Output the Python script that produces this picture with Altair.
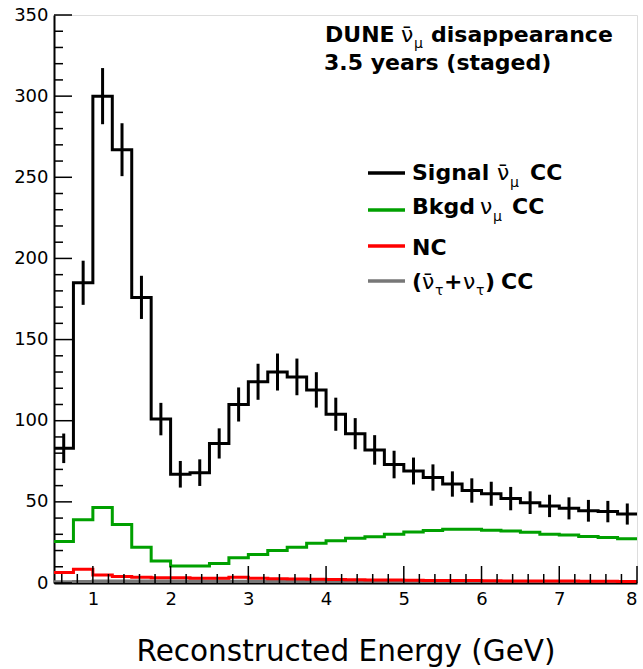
import altair as alt
import pandas as pd

# ---------------- data ----------------
bin_lo = [0.5, 0.75, 1.0, 1.25, 1.5, 1.75, 2.0, 2.25, 2.5, 2.75,
          3.0, 3.25, 3.5, 3.75, 4.0, 4.25, 4.5, 4.75, 5.0, 5.25,
          5.5, 5.75, 6.0, 6.25, 6.5, 6.75, 7.0, 7.25, 7.5, 7.75]
bin_w = 0.25

signal = [83, 185, 300, 267, 176, 101, 67, 68, 86, 110,
          124, 130, 127, 119, 104, 92, 82, 73, 69, 65,
          61, 57, 55, 52, 49.5, 47.5, 46, 44.5, 44, 42.5]
signal_err = [9.1, 13.6, 17.3, 16.3, 13.3, 10.0, 8.2, 8.2, 9.3, 10.5,
              11.1, 11.4, 11.3, 10.9, 10.2, 9.6, 9.1, 8.5, 8.3, 8.1,
              7.8, 7.5, 7.4, 7.2, 7.0, 6.9, 6.8, 6.7, 6.6, 6.5]
bkgd_numu = [25.5, 39, 46.5, 36, 22, 13.5, 10.5, 10.5, 12, 15.5,
             17.5, 20, 22, 24.5, 26, 27.5, 28.5, 30, 31.5, 32.3,
             33.1, 33.1, 32.5, 32, 31.3, 30, 29.6, 28.6, 28, 27.2]
nc = [6.5, 8.5, 5, 4, 3.5, 3.3, 3.2, 3, 3, 3.5,
      3, 2.6, 2.5, 2.3, 2.1, 2, 1.9, 1.8, 1.7, 1.6,
      1.5, 1.5, 1.4, 1.3, 1.3, 1.2, 1.2, 1.1, 1.1, 1.0]
tau = [0.8, 1.0, 1.2, 1.2, 1.2, 1.2, 1.2, 1.2, 1.2, 1.1,
       1.0, 1.0, 0.9, 0.9, 0.8, 0.8, 0.7, 0.7, 0.6, 0.6,
       0.6, 0.5, 0.5, 0.5, 0.5, 0.4, 0.4, 0.4, 0.4, 0.4]

series_names = ["tau", "nc", "bkgd", "signal"]
series_colors = ["#777777", "#ff0000", "#00a000", "#000000"]

x_major = [1, 2, 3, 4, 5, 6, 7, 8]
y_major = [0, 50, 100, 150, 200, 250, 300, 350]

# ---------------- tables ----------------
rows = []
for name, vals in zip(series_names, [tau, nc, bkgd_numu, signal]):
    for i, (lo, v) in enumerate(zip(bin_lo, vals)):
        rows.append(dict(series=name, x=lo, y=v, o=2 * i))
        rows.append(dict(series=name, x=lo + bin_w, y=v, o=2 * i + 1))
steps = pd.DataFrame(rows)

err = pd.DataFrame({"c": [lo + bin_w / 2 for lo in bin_lo],
                    "lo": [v - e for v, e in zip(signal, signal_err)],
                    "hi": [v + e for v, e in zip(signal, signal_err)]})

x_minor = [round(0.6 + 0.2 * k, 1) for k in range(37)]
x_minor = [v for v in x_minor if abs(v - round(v)) > 1e-6 and v < 8]
y_minor = [v for v in range(10, 350, 10) if v % 50 != 0]

W, H = 583, 568
FONT = "DejaVu Sans"

xs = alt.Scale(domain=[0.5, 8], nice=False, zero=False)
ys = alt.Scale(domain=[0, 350], nice=False)

hist = alt.Chart(steps).mark_line(strokeWidth=3, clip=True).encode(
    x=alt.X("x:Q", scale=xs,
            axis=alt.Axis(values=x_major, format="d", ticks=False, grid=False,
                          domainColor="black", domainWidth=2,
                          labelFont=FONT, labelFontSize=18, labelColor="black",
                          labelPadding=7,
                          title="Reconstructed Energy (GeV)", titleFont=FONT,
                          titleFontSize=29.5, titleFontWeight="normal",
                          titleColor="black", titleBaseline="alphabetic",
                          titleY=77)),
    y=alt.Y("y:Q", scale=ys,
            axis=alt.Axis(values=y_major, format="d", ticks=False, grid=False,
                          domainColor="black", domainWidth=2,
                          labelFont=FONT, labelFontSize=18, labelColor="black",
                          labelPadding=6, title="")),
    color=alt.Color("series:N", scale=alt.Scale(domain=series_names, range=series_colors),
                    legend=None),
    order=alt.Order("o:Q"),
)

errbars = alt.Chart(err).mark_rule(color="black", strokeWidth=3, clip=True).encode(
    x=alt.X("c:Q", scale=xs), y=alt.Y("lo:Q", scale=ys), y2="hi:Q")

xt_major = alt.Chart(pd.DataFrame({"v": x_major})).mark_rule(color="black", strokeWidth=1.5).encode(
    x=alt.X("v:Q", scale=xs), y=alt.value(H), y2=alt.value(H - 17))
xt_minor = alt.Chart(pd.DataFrame({"v": x_minor})).mark_rule(color="black", strokeWidth=1.5).encode(
    x=alt.X("v:Q", scale=xs), y=alt.value(H), y2=alt.value(H - 9))
yt_major = alt.Chart(pd.DataFrame({"v": y_major})).mark_rule(color="black", strokeWidth=1.5).encode(
    y=alt.Y("v:Q", scale=ys), x=alt.value(0), x2=alt.value(18))
yt_minor = alt.Chart(pd.DataFrame({"v": y_minor})).mark_rule(color="black", strokeWidth=1.5).encode(
    y=alt.Y("v:Q", scale=ys), x=alt.value(0), x2=alt.value(9))

# ---------------- annotations (pixel positions relative to plot) ----------------
OX, OY = 54, 15  # plot origin in page
NUBAR = "\u03bd\u0304"
NU = "\u03bd"
MU = "\u03bc"
TAU = "\u03c4"
FS = 22
SUB = 14


def txt(t, px, py, size=FS, weight="bold"):
    return alt.Chart(pd.DataFrame({"t": [t]})).mark_text(
        align="left", baseline="alphabetic", font=FONT, fontSize=size,
        fontWeight=weight, color="black").encode(
        text="t:N", x=alt.value(px - OX), y=alt.value(py - OY))


texts = [
    txt("DUNE", 325, 42), txt(NUBAR, 401, 42, FS, "normal"), txt(MU, 414, 48, SUB, "normal"),
    txt("disappearance", 431, 42),
    txt("3.5 years (staged)", 324, 70),
    txt("Signal", 412, 180), txt(NUBAR, 497, 180, FS, "normal"), txt(MU, 510, 187, SUB, "normal"),
    txt("CC", 530, 180),
    txt("Bkgd", 412, 214), txt(NU, 480, 214, FS, "normal"), txt(MU, 493, 221, SUB, "normal"),
    txt("CC", 512, 214),
    txt("NC", 412, 255),
    txt("(", 412, 289), txt(NUBAR, 422, 289, FS, "normal"), txt(TAU, 435, 295, SUB, "normal"),
    txt("+", 444, 289), txt(NU, 463, 289, FS, "normal"), txt(TAU, 476, 295, SUB, "normal"),
    txt(")", 485, 289), txt("CC", 501, 289),
]

leg_series = ["signal", "bkgd", "nc", "tau"]
leg_py = [173, 210, 246, 281]
leg_lines = []
for s, py in zip(leg_series, leg_py):
    col = series_colors[series_names.index(s)]
    leg_lines.append(alt.Chart(pd.DataFrame({"s": [s]})).mark_rule(color=col, strokeWidth=3.5).encode(
        x=alt.value(368 - OX), x2=alt.value(405 - OX), y=alt.value(py - OY)))

chart = alt.layer(hist, errbars, xt_major, xt_minor, yt_major, yt_minor, *leg_lines, *texts).properties(
    width=W, height=H,
    autosize=alt.AutoSizeParams(type="none"),
    padding={"left": OX, "top": OY, "right": 643 - OX - W, "bottom": 669 - OY - H},
).configure_view(stroke="#555555", strokeWidth=1.5).configure(background="white")

chart.save("out.html", embed_options={"renderer": "svg", "actions": False})
